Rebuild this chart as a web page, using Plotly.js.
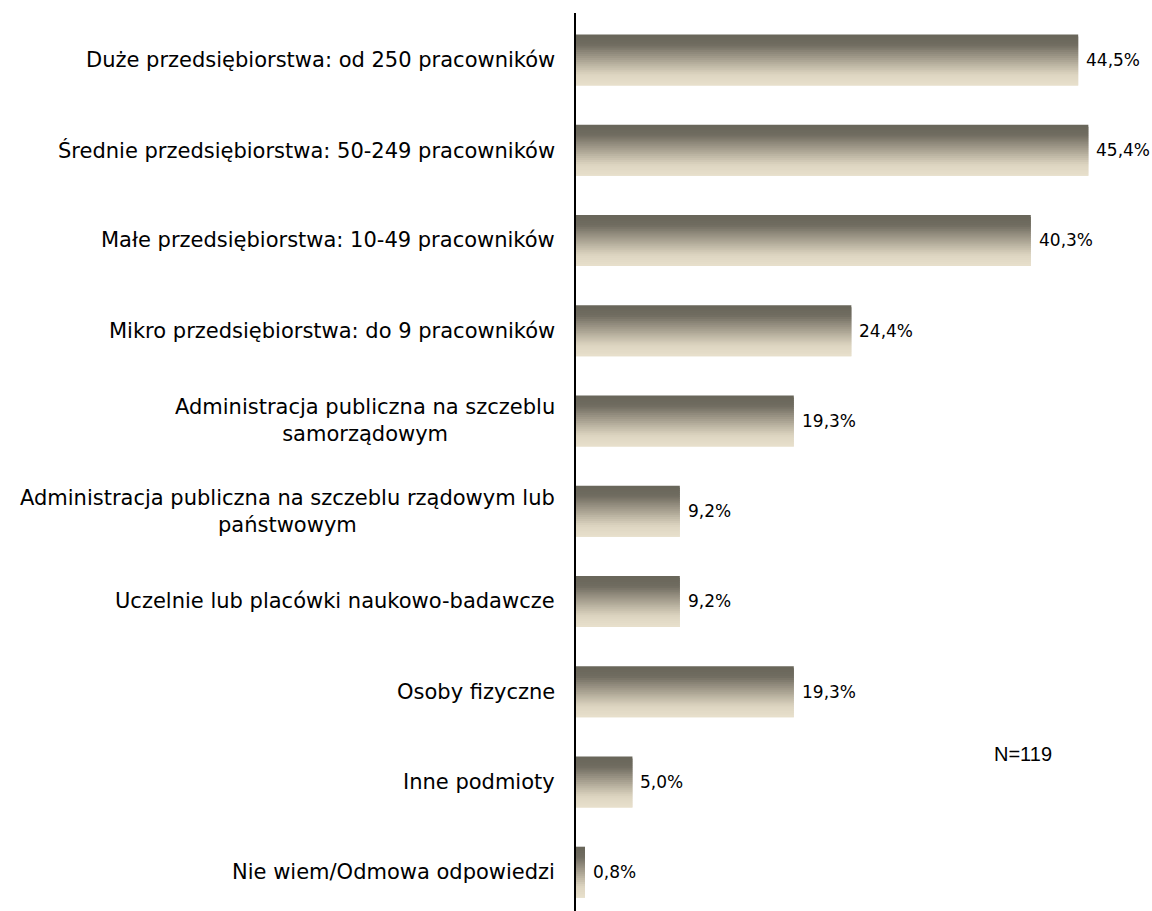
<!DOCTYPE html>
<html>
<head>
<meta charset="utf-8">
<script src="https://cdn.plot.ly/plotly-3.0.1.min.js"></script>
<style>html,body{margin:0;padding:0;background:#fff;}#chart{width:1152px;height:911px;}</style>
</head>
<body>
<div id="chart"></div>
<script>
const categories = [
  "Duże przedsiębiorstwa: od 250 pracowników",
  "Średnie przedsiębiorstwa: 50-249 pracowników",
  "Małe przedsiębiorstwa: 10-49 pracowników",
  "Mikro przedsiębiorstwa: do 9 pracowników",
  "Administracja publiczna na szczeblu<br>samorządowym",
  "Administracja publiczna na szczeblu rządowym lub<br>państwowym",
  "Uczelnie lub placówki naukowo-badawcze",
  "Osoby fizyczne",
  "Inne podmioty",
  "Nie wiem/Odmowa odpowiedzi"
];
const values = [44.5, 45.4, 40.3, 24.4, 19.3, 9.2, 9.2, 19.3, 5.0, 0.8];
const valueLabels = ["44,5%", "45,4%", "40,3%", "24,4%", "19,3%", "9,2%", "9,2%", "19,3%", "5,0%", "0,8%"];
const noteText = "N=119";

// gradient style (top -> bottom)
const stops = [[0, [104,101,89]], [0.2, [112,108,96]], [0.5, [170,163,146]], [0.78, [220,212,192]], [1, [232,224,204]]];
function colorAt(t) {
  for (let i = 1; i < stops.length; i++) {
    if (t <= stops[i][0]) {
      const a = stops[i-1], b = stops[i];
      const f = (t - a[0]) / (b[0] - a[0]);
      const c = a[1].map((v, k) => Math.round(v + (b[1][k] - v) * f));
      return `rgb(${c[0]},${c[1]},${c[2]})`;
    }
  }
  const c = stops[stops.length-1][1];
  return `rgb(${c[0]},${c[1]},${c[2]})`;
}

const barWidth = 0.565;
const nStrips = 26;
const stripW = barWidth / nStrips;
const traces = [];
for (let i = 0; i < nStrips; i++) {
  const last = i === nStrips - 1;
  traces.push({
    type: 'bar',
    orientation: 'h',
    y: categories,
    x: values,
    width: last ? stripW : stripW * 2,
    offset: -barWidth / 2 + i * stripW,
    marker: { color: colorAt((i + 0.5) / nStrips), line: { width: 0 } },
    hoverinfo: 'skip',
    showlegend: false
  });
}

const annotations = categories.map(c => ({
  xref: 'paper', yref: 'y', x: 0, y: c,
  xanchor: 'right', yanchor: 'middle', xshift: -19,
  text: c, showarrow: false, align: 'center',
  font: { family: 'DejaVu Sans', size: 21, color: '#000' }
}));
values.forEach((v, i) => annotations.push({
  xref: 'x', yref: 'y', x: v, y: categories[i],
  xanchor: 'left', yanchor: 'middle', xshift: 6,
  text: valueLabels[i], showarrow: false,
  font: { family: 'DejaVu Sans', size: 17, color: '#000' }
}));
annotations.push({
  xref: 'paper', yref: 'paper', x: 0.741, y: 0.175,
  xanchor: 'left', yanchor: 'middle',
  text: noteText, showarrow: false,
  font: { family: 'Liberation Sans', size: 20, color: '#000' }
});

const layout = {
  width: 1152, height: 911,
  margin: { l: 576, r: 14, t: 13, b: 0, pad: 0 },
  paper_bgcolor: '#fff', plot_bgcolor: '#fff',
  barmode: 'overlay',
  showlegend: false,
  xaxis: { range: [0, 49.8], visible: false, fixedrange: true },
  yaxis: {
    type: 'category', range: [9.43, -0.52],
    showticklabels: false, ticks: '', showgrid: false, zeroline: false,
    showline: true, linecolor: '#000', linewidth: 2
  },
  annotations: annotations
};

Plotly.newPlot('chart', traces, layout, { displayModeBar: false, staticPlot: true });
</script>
</body>
</html>
